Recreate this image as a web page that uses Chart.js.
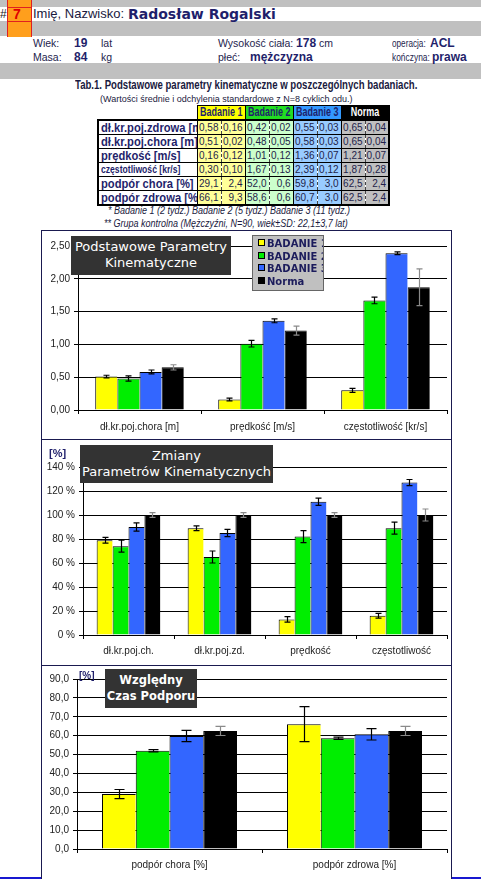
<!DOCTYPE html>
<html>
<head>
<meta charset="utf-8">
<script src="https://cdn.jsdelivr.net/npm/chart.js@4.4.1/dist/chart.umd.min.js"></script>
<style>
body{margin:0;width:481px;height:879px;overflow:hidden;position:relative;background:#fff;font-family:Arial,"Liberation Sans",sans-serif;color:#1e1e4a}
.a{position:absolute;white-space:nowrap;line-height:14px}
.band{position:absolute;left:0;width:481px;background:#c0c0c0}
.val{font-weight:bold;font-size:12px;color:#1f1f6b}
.lbl{font-size:10.5px;color:#24244e}
.sx{transform-origin:left center}
.tb{position:absolute;background:#333;color:#fff;font-family:"DejaVu Sans",Verdana,sans-serif;font-size:13px;line-height:16px;text-align:center;padding-top:3px;box-sizing:border-box;white-space:nowrap}
#tab{position:absolute;left:97px;top:105px;width:291px;border-collapse:collapse;table-layout:fixed}
#tab td,#tab th{padding:0;overflow:hidden;white-space:nowrap}
#tab th{height:12px;line-height:12px;font-size:12px;font-weight:bold;color:#1f1f6b;border:1px solid #000;text-align:center}
#tab th span{display:inline-block;transform:scaleX(0.75);margin:0 -12px}
#tab td{height:13px;line-height:13px;border-top:1px solid #000;border-bottom:1px solid #000}
#tab td.lab{font-size:13px;font-weight:bold;color:#1f1f6b;border-left:2px solid #000;padding-left:2px}
#tab td.lab span{display:inline-block;transform:scaleX(0.86);transform-origin:left center}
#tab td.m{border-left:1px solid #000;border-right:1px dashed #444;text-align:right;padding-right:2px;font-size:10px}
#tab td.s{border-right:1px solid #000;text-align:right;padding-right:2px;font-size:10px}
#tab tr:last-child td{border-bottom:2px solid #000}
#tab tr:nth-child(2) td{border-top:2px solid #000}
#tab td.last{border-right:2px solid #000}
#legend{position:absolute;left:252px;top:235px;width:70px;height:54px;background:#c0c0c0;border:1px solid #666;overflow:hidden}
#legend div{position:absolute;left:5px;white-space:nowrap;font-family:"DejaVu Sans",Verdana,sans-serif;font-size:10px;font-weight:bold;color:#1c1c5c;line-height:12px}
#legend span{display:inline-block;width:5px;height:5px;border:1px solid #000;margin-right:2px;vertical-align:1px}
canvas{position:absolute}
</style>
</head>
<body>

<div class="band" style="top:0;height:7px"></div>
<div class="band" style="top:21px;height:15px"></div>
<div class="band" style="top:63px;height:16px"></div>
<div style="position:absolute;left:7px;top:0;width:23px;height:37px;background:#ff9f1c;border-left:1px solid #e02020;border-right:1px solid #e02020"></div>
<div style="position:absolute;left:7px;top:7px;width:25px;height:1px;background:#e02020"></div>
<div style="position:absolute;left:7px;top:21px;width:25px;height:1px;background:#e02020"></div>
<div class="a" style="left:0;top:7px;font-size:12px;color:#222">#</div>
<div class="a" style="left:13px;top:7px;font-size:14px;font-weight:bold;color:#e00000">7</div>
<div class="a" style="left:33px;top:7px;font-size:13px;color:#1a1a40">Imię, Nazwisko:</div>
<div class="a" style="left:128px;top:7px;font-family:'DejaVu Sans',sans-serif;font-size:14px;font-weight:bold;color:#1f1f6b">Radosław Rogalski</div>

<div class="a lbl" style="left:33px;top:36px">Wiek:</div>
<div class="a val" style="left:74px;top:36px">19</div>
<div class="a lbl" style="left:101px;top:36px">lat</div>
<div class="a lbl" style="left:33px;top:50px">Masa:</div>
<div class="a val" style="left:74px;top:50px">84</div>
<div class="a lbl" style="left:101px;top:50px">kg</div>
<div class="a lbl" style="left:218px;top:36px">Wysokość ciała: <b class="val">178</b> cm</div>
<div class="a lbl" style="left:218px;top:50px">płeć:</div>
<div class="a val" style="left:250px;top:50px">mężczyzna</div>
<div class="a lbl sx" style="left:392px;top:36px;transform:scaleX(0.78)">operacja:</div>
<div class="a val" style="left:430px;top:36px">ACL</div>
<div class="a lbl sx" style="left:392px;top:50px;transform:scaleX(0.8)">kończyna:</div>
<div class="a val" style="left:432px;top:50px">prawa</div>

<div class="a sx" style="left:75px;top:78px;font-size:12px;font-weight:bold;color:#1a1a40;transform:scaleX(0.8)">Tab.1. Podstawowe parametry kinematyczne w poszczególnych badaniach.</div>
<div class="a" style="left:100px;top:92px;font-size:9px;color:#1a1a40">(Wartości średnie i odchylenia standardowe z N=8 cyklich odu.)</div>
<table id="tab"></table>
<div class="a sx" style="left:108px;top:204px;font-size:10px;font-style:italic;color:#1a1a40;transform:scaleX(0.9)">* Badanie 1 (2 tydz.) Badanie 2 (5 tydz.) Badanie 3 (11 tydz.)</div>
<div class="a sx" style="left:104px;top:217px;font-size:10px;font-style:italic;color:#1a1a40;transform:scaleX(0.9)">** Grupa kontrolna (Mężczyźni, N=90, wiek±SD: 22,1±3,7 lat)</div>

<div style="position:absolute;left:41px;top:230px;width:409px;height:670px;border:1px solid #1a1a50"></div>
<div style="position:absolute;left:41px;top:439px;width:411px;height:1px;background:#1a1a50"></div>
<div style="position:absolute;left:41px;top:665px;width:411px;height:1px;background:#1a1a50"></div>
<div style="position:absolute;left:0;top:877px;width:41px;height:2px;background:#1818d0"></div>
<div style="position:absolute;left:452px;top:877px;width:29px;height:2px;background:#1818d0"></div>

<canvas id="c1" width="409" height="207" style="left:42px;top:231px"></canvas>
<canvas id="c2" width="409" height="224" style="left:42px;top:440px"></canvas>
<canvas id="c3" width="409" height="211" style="left:42px;top:666px"></canvas>

<div class="tb" style="left:71px;top:236px;width:160px;height:39px">Podstawowe Parametry<br>Kinematyczne</div>
<div id="legend"></div>
<div class="tb" style="left:80px;top:445px;width:193px;height:38px">Zmiany<br>Parametrów Kinematycznych</div>
<div class="a" style="left:49px;top:446px;font-size:11px;font-weight:bold;color:#1f1f6b">[%]</div>
<div class="tb" style="left:105px;top:669px;width:92px;height:39px;font-weight:bold;font-size:11.5px">Względny<br>Czas Podporu</div>
<div class="a" style="left:79px;top:669px;font-size:10px;font-weight:bold;color:#1f1f6b">[%]</div>

<script>
// series
var seriesNames = ["BADANIE 1", "BADANIE 2", "BADANIE 3", "Norma"];
var seriesColors = ["#ffff00", "#00ee00", "#3366ff", "#000000"];

// Tab.1
var tabRows = ["dł.kr.poj.zdrowa [m]", "dł.kr.poj.chora [m]", "prędkość [m/s]", "częstotliwość [kr/s]", "podpór chora [%]", "podpór zdrowa [%]"];
var tabDecimals = [2, 2, 2, 2, 1, 1];
var tabB1 = [0.58, 0.51, 0.16, 0.30, 29.1, 66.1];
var tabB1Sd = [0.16, 0.02, 0.12, 0.10, 2.4, 9.3];
var tabB2 = [0.42, 0.48, 1.01, 1.67, 52.0, 58.6];
var tabB2Sd = [0.02, 0.05, 0.12, 0.13, 0.6, 0.6];
var tabB3 = [0.55, 0.58, 1.36, 2.39, 59.8, 60.7];
var tabB3Sd = [0.03, 0.03, 0.07, 0.12, 3.0, 3.0];
var tabN = [0.65, 0.65, 1.21, 1.87, 62.5, 62.5];
var tabNSd = [0.04, 0.04, 0.07, 0.28, 2.4, 2.4];

// chart 1 - Podstawowe Parametry Kinematyczne
var kinLabels = ["dł.kr.poj.chora [m]", "prędkość [m/s]", "częstotliwość [kr/s]"];
var kinB1 = [0.51, 0.16, 0.30];
var kinB1Err = [0.02, 0.02, 0.03];
var kinB2 = [0.48, 1.01, 1.67];
var kinB2Err = [0.04, 0.05, 0.05];
var kinB3 = [0.58, 1.36, 2.39];
var kinB3Err = [0.03, 0.03, 0.02];
var kinN = [0.65, 1.21, 1.87];
var kinNErr = [0.04, 0.07, 0.28];

// chart 2 - Zmiany Parametrow Kinematycznych [%]
var zmLabels = ["dł.kr.poj.ch.", "dł.kr.poj.zd.", "prędkość", "częstotliwość"];
var zmB1 = [79, 89, 13, 16];
var zmB1Err = [2.4, 2, 2.3, 2];
var zmB2 = [74, 65, 82, 89];
var zmB2Err = [5, 5, 5, 5];
var zmB3 = [90, 85, 111, 127];
var zmB3Err = [3.5, 3, 3, 2.6];
var zmN = [100, 100, 100, 100];
var zmNErr = [2, 2, 2, 5];

// chart 3 - Wzgledny Czas Podporu [%]
var podLabels = ["podpór chora [%]", "podpór zdrowa [%]"];
var podB1 = [29.1, 66.1];
var podB1Err = [2.4, 9.3];
var podB2 = [52.0, 58.6];
var podB2Err = [0.6, 0.6];
var podB3 = [59.8, 60.7];
var podB3Err = [3.0, 3.0];
var podN = [62.5, 62.5];
var podNErr = [2.4, 2.4];

function comma(v, d) { return v.toFixed(d).replace(".", ","); }

// table
var heads = [["Badanie 1", "#ffff00", "#1f1f6b"], ["Badanie 2", "#22dd22", "#1f1f6b"], ["Badanie 3", "#3399ff", "#1f1f6b"], ["Norma", "#000", "#fff"]];
var cellBg = ["#ffff99", "#ccffcc", "#99ccff", "#c0c0c0"];
var cols = [[tabB1, tabB1Sd], [tabB2, tabB2Sd], [tabB3, tabB3Sd], [tabN, tabNSd]];
var html = '<colgroup><col style="width:99px">';
for (var k = 0; k < 8; k++) html += '<col style="width:24px">';
html += '</colgroup><tr><td style="border:none"></td>';
heads.forEach(function (h) {
  html += '<th colspan="2" style="background:' + h[1] + ';color:' + h[2] + '"><span>' + h[0] + '</span></th>';
});
html += '</tr>';
tabRows.forEach(function (name, r) {
  var fs = r === 3 ? 'font-size:10px;' : '';
  html += '<tr><td class="lab" style="' + fs + '"><span>' + name + '</span></td>';
  cols.forEach(function (c, b) {
    var bg = 'background:' + cellBg[b];
    html += '<td class="m" style="' + bg + '">' + comma(c[0][r], tabDecimals[r]) + '</td>';
    html += '<td class="s' + (b === 3 ? ' last' : '') + '" style="' + bg + '">' + comma(c[1][r], tabDecimals[r]) + '</td>';
  });
  html += '</tr>';
});
document.getElementById("tab").innerHTML = html;

// legend of chart 1
var leg = document.getElementById("legend");
seriesNames.forEach(function (n, i) {
  var d = document.createElement("div");
  d.style.top = (2 + i * 12.5) + "px";
  d.innerHTML = '<span style="background:' + seriesColors[i] + '"></span>' + n;
  leg.appendChild(d);
});

// error bars drawn with the y scale
var errorBars = {
  id: "errorBars",
  afterDatasetsDraw: function (chart, args, opts) {
    var ctx = chart.ctx, y = chart.scales.y;
    ctx.save();
    ctx.lineWidth = 1.2;
    chart.data.datasets.forEach(function (ds, i) {
      var meta = chart.getDatasetMeta(i);
      ctx.strokeStyle = i === 3 ? "#8a8a8a" : "#000";
      meta.data.forEach(function (bar, j) {
        var top = y.getPixelForValue(ds.data[j] + ds.errors[j]);
        var bot = y.getPixelForValue(ds.data[j] - ds.errors[j]);
        var x = Math.round(bar.x) + 0.5;
        ctx.beginPath();
        ctx.moveTo(x, top); ctx.lineTo(x, bot);
        ctx.moveTo(x - opts.cap, top); ctx.lineTo(x + opts.cap, top);
        ctx.moveTo(x - opts.cap, bot); ctx.lineTo(x + opts.cap, bot);
        ctx.stroke();
      });
    });
    ctx.restore();
  }
};

function barChart(id, labels, values, errors, o) {
  var sets = values.map(function (v, i) {
    return {
      label: seriesNames[i],
      data: v,
      errors: errors[i],
      backgroundColor: seriesColors[i],
      borderColor: "#000",
      borderWidth: {top: 1, left: 1, right: 0, bottom: 0},
      barPercentage: 1,
      categoryPercentage: o.cat
    };
  });
  var tickFont = {family: "Arial", size: 10};
  return new Chart(document.getElementById(id), {
    type: "bar",
    data: {labels: labels, datasets: sets},
    options: {
      responsive: false,
      animation: false,
      devicePixelRatio: 1,
      layout: {padding: {top: o.top, right: 4, left: 0, bottom: 0}},
      plugins: {legend: {display: false}, tooltip: {enabled: false}, errorBars: {cap: o.cap}},
      scales: {
        x: {
          grid: {offset: true, drawOnChartArea: false, color: "#000", tickLength: 4},
          border: {color: "#000"},
          ticks: {font: tickFont, color: "#222", padding: o.xpad, maxRotation: 0, autoSkip: false},
          afterFit: function (s) { s.height = o.xh; }
        },
        y: {
          min: 0,
          max: o.max,
          ticks: {stepSize: o.step, font: tickFont, color: "#222", padding: 4, callback: o.fmt},
          grid: {color: "#000", tickLength: 4},
          border: {color: "#000"},
          afterFit: function (s) { s.width = o.yw; }
        }
      }
    },
    plugins: [errorBars]
  });
}

barChart("c1", kinLabels, [kinB1, kinB2, kinB3, kinN], [kinB1Err, kinB2Err, kinB3Err, kinNErr],
  {cat: 0.72, top: 15, xh: 28, xpad: 7, yw: 36, max: 2.5, step: 0.5, cap: 3,
   fmt: function (v) { return comma(v, 2); }});

barChart("c2", zmLabels, [zmB1, zmB2, zmB3, zmN], [zmB1Err, zmB2Err, zmB3Err, zmNErr],
  {cat: 0.70, top: 27, xh: 29, xpad: 6, yw: 41, max: 140, step: 20, cap: 3,
   fmt: function (v) { return v + " %"; }});

barChart("c3", podLabels, [podB1, podB2, podB3, podN], [podB1Err, podB2Err, podB3Err, podNErr],
  {cat: 0.73, top: 13, xh: 28, xpad: 6, yw: 35, max: 90, step: 10, cap: 5,
   fmt: function (v) { return comma(v, 1); }});
</script>
</body>
</html>
